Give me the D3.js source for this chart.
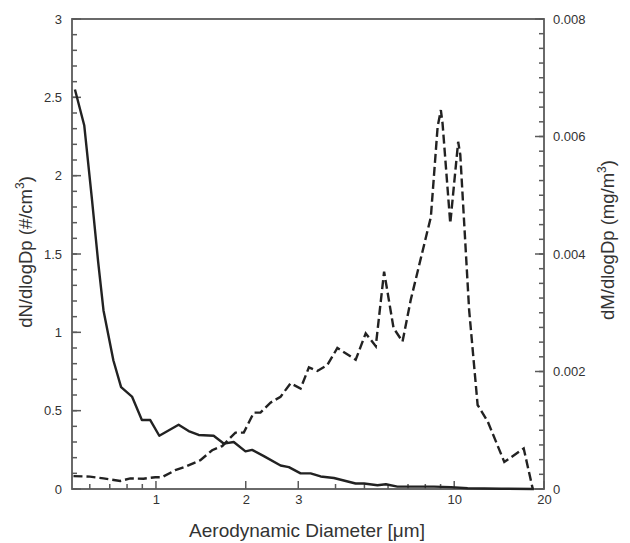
<!DOCTYPE html>
<html>
<head>
<meta charset="utf-8">
<script src="https://cdn.jsdelivr.net/npm/d3@7"></script>
<style>
  body { margin: 0; background: #fff; }
  text { font-family: "Liberation Sans", Arial, sans-serif; fill: #333; }
</style>
</head>
<body>
<svg id="chart" width="630" height="543"></svg>
<script>
// number concentration (solid, left axis)
const numDiam = [0.535, 0.575, 0.61, 0.64, 0.667, 0.72, 0.764, 0.831, 0.897, 0.957, 1.026, 1.191, 1.287, 1.39, 1.561,
  1.687, 1.823, 1.996, 2.10, 2.30, 2.617, 2.79, 3.054, 3.30, 3.565, 3.95, 4.67, 4.985, 5.53, 5.90, 6.45, 8.55, 9.75,
  11.09, 14.35, 18.5];
const numConc = [2.55, 2.32, 1.85, 1.45, 1.14, 0.82, 0.65, 0.59, 0.44, 0.44, 0.34, 0.41, 0.37, 0.345, 0.34,
  0.29, 0.30, 0.24, 0.25, 0.21, 0.15, 0.14, 0.10, 0.10, 0.08, 0.07, 0.035, 0.035, 0.024, 0.03, 0.015, 0.015, 0.012,
  0.005, 0.002, 0];

// mass concentration (dashed, right axis)
const massDiam = [0.529, 0.601, 0.667, 0.759, 0.820, 0.908, 0.995, 1.047, 1.161, 1.254, 1.409, 1.543, 1.667, 1.847,
  1.97, 2.128, 2.241, 2.421, 2.617, 2.827, 3.054, 3.257, 3.476, 3.755, 4.057, 4.674, 5.05, 5.457, 5.82, 6.26, 6.71,
  7.15, 8.35, 8.80, 9.02, 9.14, 9.70, 10.31, 10.48, 11.22, 11.98, 12.95, 14.72, 17.1, 18.34];
const massConc = [0.00022, 0.00021, 0.00018, 0.000136, 0.00018, 0.000175, 0.0002, 0.0002, 0.00032, 0.00038, 0.00049,
  0.00066, 0.00073, 0.00096, 0.00096, 0.0013, 0.0013, 0.00147, 0.00157, 0.0018, 0.00171, 0.00207, 0.00201, 0.00211,
  0.0024, 0.0022, 0.00265, 0.00243, 0.0037, 0.00274, 0.00251, 0.00322, 0.00463, 0.00617, 0.00645, 0.00622, 0.00452,
  0.00591, 0.00569, 0.00305, 0.00143, 0.00115, 0.00046, 0.00069, 0];

const xTickVals = [1, 2, 3, 10, 20];
const xMinorVals = [0.6, 0.7, 0.8, 0.9, 4, 5, 6, 7, 8, 9];
const leftTicks = [0, 0.5, 1, 1.5, 2, 2.5, 3];
const rightTicks = [0, 0.002, 0.004, 0.006, 0.008];

const svg = d3.select("#chart");
const mLeft = 72, mRight = 544, mTop = 19, mBottom = 489;

const x = d3.scaleLog().domain([0.523, 20]).range([mLeft, mRight]);
const yL = d3.scaleLinear().domain([0, 3]).range([mBottom, mTop]);
const yR = d3.scaleLinear().domain([0, 0.008]).range([mBottom, mTop]);

const axisColor = "#5a5a5a";

// frame
svg.append("rect")
    .attr("x", mLeft).attr("y", mTop)
    .attr("width", mRight - mLeft).attr("height", mBottom - mTop)
    .attr("fill", "none").attr("stroke", axisColor).attr("stroke-width", 1.8);

// tick marks, drawn inward
const ticks = svg.append("g").attr("stroke", axisColor).attr("stroke-width", 1.5);
function hTicks(vals, scale, len) {
    ticks.selectAll(null).data(vals).enter().append("line")
        .attr("x1", d => scale(d)).attr("x2", d => scale(d))
        .attr("y1", mBottom).attr("y2", mBottom - len);
}
function vTicks(vals, scale, x0, len) {
    ticks.selectAll(null).data(vals).enter().append("line")
        .attr("x1", x0).attr("x2", x0 + len)
        .attr("y1", d => scale(d)).attr("y2", d => scale(d));
}
hTicks(xMinorVals, x, 5);
hTicks(xTickVals, x, 8);
vTicks(yL.ticks(30), yL, mLeft, 5);
vTicks(leftTicks, yL, mLeft, 9);
vTicks(d3.range(0, 0.00801, 0.00025), yR, mRight, -5);
vTicks(rightTicks, yR, mRight, -9);

// axis labels
const xAxis = svg.append("g").attr("transform", `translate(0,${mBottom})`)
    .call(d3.axisBottom(x).tickValues(xTickVals).tickSize(0).tickPadding(6).tickFormat(d3.format("d")));
const yAxisL = svg.append("g").attr("transform", `translate(${mLeft},0)`)
    .call(d3.axisLeft(yL).tickValues(leftTicks).tickSize(0).tickPadding(10).tickFormat(d => d));
const yAxisR = svg.append("g").attr("transform", `translate(${mRight},0)`)
    .call(d3.axisRight(yR).tickValues(rightTicks).tickSize(0).tickPadding(9).tickFormat(d => d === 0 ? "0" : d3.format(".3f")(d)));

[xAxis, yAxisL, yAxisR].forEach(g => {
    g.select(".domain").remove();
    g.selectAll("line").remove();
    g.selectAll("text").style("font-size", "13px").attr("fill", "#444");
});

// lines
const numLine = d3.line().x(d => x(d[0])).y(d => yL(d[1]));
const massLine = d3.line().x(d => x(d[0])).y(d => yR(d[1]));

svg.append("path")
    .datum(d3.zip(numDiam, numConc))
    .attr("d", numLine)
    .attr("fill", "none").attr("stroke", "#222").attr("stroke-width", 2.4)
    .attr("stroke-linejoin", "round");

svg.append("path")
    .datum(d3.zip(massDiam, massConc))
    .attr("d", massLine)
    .attr("fill", "none").attr("stroke", "#222").attr("stroke-width", 2.4)
    .attr("stroke-dasharray", "9,4");

// titles
svg.append("text")
    .attr("x", 307).attr("y", 537)
    .attr("text-anchor", "middle").style("font-size", "19px")
    .text("Aerodynamic Diameter [μm]");

svg.append("text")
    .attr("transform", "translate(32,252) rotate(-90)")
    .attr("text-anchor", "middle").style("font-size", "18.5px")
    .html('dN/dlogDp (#/cm<tspan dy="-8" style="font-size:12px">3</tspan><tspan dy="8">)</tspan>');

svg.append("text")
    .attr("transform", "translate(614,240) rotate(-90)")
    .attr("text-anchor", "middle").style("font-size", "18.5px")
    .html('dM/dlogDp (mg/m<tspan dy="-8" style="font-size:12px">3</tspan><tspan dy="8">)</tspan>');
</script>
</body>
</html>
